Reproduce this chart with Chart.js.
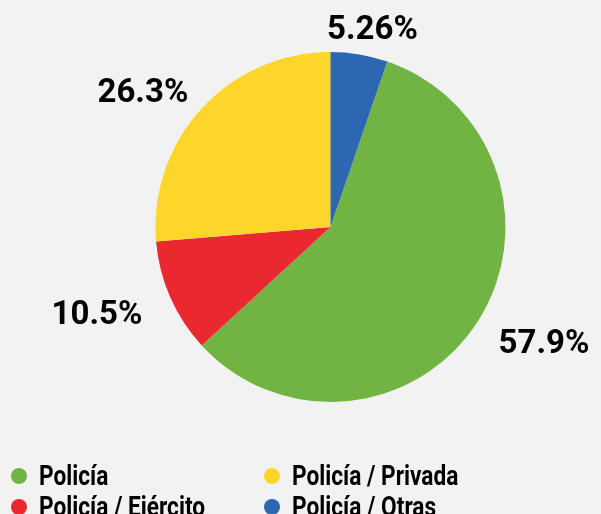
<!DOCTYPE html>
<html>
<head>
<meta charset="utf-8">
<script src="https://cdn.jsdelivr.net/npm/chart.js@4/dist/chart.umd.min.js"></script>
<style>
  html, body { margin: 0; padding: 0; background: #f2f2f2; overflow: hidden; }
  #wrap { position: relative; width: 601px; height: 514px; }
  #pie { position: absolute; left: 0; top: 0; }
  #legend {
    position: absolute; left: 11px; top: 460px;
    display: grid; grid-template-columns: 253px 300px;
    font-family: Roboto, sans-serif; font-weight: bold; font-size: 27px; color: #000;
  }
  .item { display: flex; align-items: center; height: 31px; white-space: nowrap; }
  .dot { width: 16px; height: 16px; border-radius: 50%; margin-right: 12px; flex: none; }
  .txt { display: inline-block; transform: scaleX(0.84); transform-origin: left center; }
</style>
</head>
<body>
<div id="wrap">
  <canvas id="pie" width="601" height="514"></canvas>
  <div id="legend"></div>
</div>
<script>
// slices, clockwise after the rotation
var categories = ['Policía', 'Policía / Ejército', 'Policía / Privada', 'Policía / Otras'];
var counts = [11, 2, 5, 1];
var percentLabels = ['57.9%', '10.5%', '26.3%', '5.26%'];
var colors = ['#72b443', '#e9282f', '#fed52b', '#2e67b1'];
// legend reads row by row
var legendOrder = [0, 2, 1, 3];

var total = counts.reduce((a, b) => a + b, 0);

var outsideLabels = {
    id: 'outsideLabels',
    afterDatasetsDraw(chart) {
        var ctx = chart.ctx;
        var meta = chart.getDatasetMeta(0);
        ctx.save();
        ctx.font = 'bold 33px Roboto, sans-serif';
        ctx.fillStyle = '#000';
        ctx.textAlign = 'center';
        ctx.textBaseline = 'middle';
        meta.data.forEach((arc, i) => {
            var mid = (arc.startAngle + arc.endAngle) / 2;
            var x = arc.x + Math.cos(mid) * (arc.outerRadius + 80);
            var y = arc.y + Math.sin(mid) * (arc.outerRadius + 30) + 6;
            ctx.fillText(percentLabels[i], x, y);
        });
        ctx.restore();
    }
};

var pieChart = new Chart('pie', { //eslint-disable-line
    type: 'pie',
    data: {
        labels: categories,
        datasets: [{
            data: counts,
            backgroundColor: colors,
            borderWidth: 0
        }]
    },
    options: {
        responsive: false,
        animation: false,
        rotation: counts[3] / total * 360,
        layout: {
            padding: { top: 52, bottom: 112, left: 155.5, right: 95.5 }
        },
        plugins: {
            legend: { display: false },
            tooltip: { enabled: false }
        }
    },
    plugins: [outsideLabels]
});

var legend = document.getElementById('legend');
legendOrder.forEach(i => {
    var item = document.createElement('div');
    item.className = 'item';
    item.innerHTML = '<span class="dot" style="background:' + colors[i] + '"></span><span class="txt">' + categories[i] + '</span>';
    legend.appendChild(item);
});
</script>
</body>
</html>
